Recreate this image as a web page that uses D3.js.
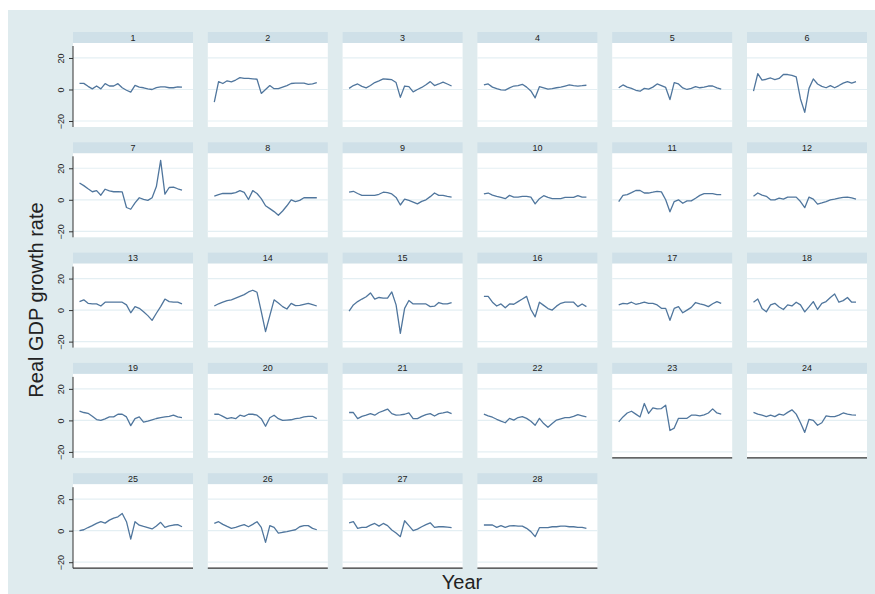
<!DOCTYPE html>
<html lang="en">
<head>
    <meta charset="UTF-8">
    <title>Real GDP growth rate by country</title>
    <script src="https://d3js.org/d3.v7.min.js"></script>
    <style>
        body { margin: 0; background: #fff; }
        text { font-family: 'Liberation Sans', Arial, sans-serif; fill: #222; }
        .hdr { font-size: 9px; }
        .title { font-size: 20px; }
    </style>
</head>
<body>
<script>

    const width  = 875;
    const height = 594;

    const years = d3.range(1990, 2015);
    const countries = d3.range(1, 29).map(String);
    const yTicks = [-20, 0, 20];

    // growth rate per country
    const s01 = [3.9,3.9,2,0.4,2.2,0.4,3.7,2.2,2.2,3.7,1.1,-0.5,-1.7,2.6,1.5,1.1,0.4,0,1.2,1.7,1.7,1.1,1.1,1.7,1.5];
    const s02 = [-8,5,3.8,5.5,4.8,6,7.5,7,7,6.8,6.5,-2.5,0,2.5,0.5,0.5,1.5,2.5,3.8,4,4,4,3.2,3.5,4.3];
    const s03 = [0.7,2.5,3.5,2,1,2.5,4.4,5.5,6.7,6.5,6.2,4.4,-5,2.2,1.8,-1.5,0,1.3,3,5,2.5,3.5,4.7,3.5,2.2];
    const s04 = [2.9,3.5,1.5,0.5,-0.3,-0.4,1,2.2,2.5,3.3,1.5,-0.9,-5.3,1.8,1,0.2,0.5,1.1,1.5,2.2,2.9,2.5,2.2,2.4,2.7];
    const s05 = [1.1,2.9,1.5,0.7,-0.5,-1.1,0.7,0.2,1.5,3.5,2.5,1.3,-6.4,4.4,3.5,1,0,0.7,1.8,1.1,1.5,2.2,2.2,1,0.2];
    const s06 = [-1,10,6,6.5,7.3,6.2,7,9.5,9.5,9,8,-6,-14.5,0.7,6.7,3.5,2,1.1,2.5,1.1,2.5,4,5,4,5];
    const s07 = [10.7,9,7,5.1,5.8,2.9,6.7,5.6,5.1,5.1,5,-4.9,-6,-2,1.3,0.2,-0.4,1.3,8.4,25,3.6,7.8,8,7,6.2];
    const s08 = [2.4,3.3,4,4,4,4.5,5.8,4.7,0.2,5.8,4,0.7,-3.8,-5.6,-7.5,-9.8,-7.1,-3.8,0,-1.1,-0.4,1.3,1.3,1.3,1.3];
    const s09 = [4.8,5.4,4,2.8,2.8,2.8,2.8,3.5,4.8,4.5,3.7,1.5,-3.3,0.4,-0.4,-1.5,-2.6,-1,0,2,4.3,2.8,2.8,2.2,1.7];
    const s10 = [3.7,4.3,3,2.2,1.5,0.7,2.8,1.7,1.7,2.2,2.2,1.7,-2.6,0.7,2.6,1.5,0.7,0.7,0.7,1.5,1.5,1.5,2.6,1.7,1.7];
    const s11 = [-1.1,2.8,3.3,4.5,5.9,5.9,4.3,4.3,4.8,5.4,5,0,-7.6,-1.1,0,-2.2,-0.7,-0.7,1,2.8,3.9,3.9,3.9,3.3,3.3];
    const s12 = [2.2,4.3,3,2.2,0,0,1.1,0.4,1.7,1.7,1.7,-1.1,-5,1.7,0.4,-2.8,-2,-1.1,0,0.4,1.1,1.5,1.7,1.2,0.4];
    const s13 = [5.4,6.5,4.3,4,3.9,2.6,5,5,5,5,5,3.3,-1.7,2.2,1.1,-1,-3.5,-6.5,-2,2.2,7,5.4,5,5,3.9];
    const s14 = [2.6,4,5,6,6.5,7.6,8.7,9.8,11.5,12.6,11.3,-1,-13.7,-3.5,6.5,4.5,2.2,0.7,4.3,2.8,3,3.7,4.3,3.5,2.6];
    const s15 = [-0.7,3.3,5.4,7,8.5,10.9,7,8,7.6,7.6,11.5,3.3,-14.8,1.1,6.1,3.9,3.9,3.9,3.9,2.2,2.5,4.8,3.9,3.9,4.8];
    const s16 = [8.7,8.7,5,2.6,3.9,1.5,3.9,3.7,5.4,7,8.7,0.4,-4.3,5,3,1,0,2.5,4.3,5,5,5,2.2,3.9,2.2];
    const s17 = [3.3,4.3,3.9,5,3.7,4.3,5,4.3,4.3,3.3,1.1,1.1,-6.5,1.1,2.2,-1.7,0,1.7,4.8,4,3.3,2.2,4,5.4,4.3];
    const s18 = [5,7,1,-1.1,3.3,4.3,2,0.4,3.3,2.6,5,3.3,-1.1,2,5.4,0.4,4.3,5.4,8,10.2,5,6,8,5,5];
    const s19 = [5.9,5,4.5,2.6,0.5,0,1,2.2,2.2,3.9,3.9,2.2,-3.3,1.1,2.2,-1.1,-0.5,0.4,1.2,1.7,2.2,2.6,3.3,2.2,1.7];
    const s20 = [3.9,3.9,2.5,1.1,1.7,1.1,3.3,2.6,3.9,3.9,3.3,1.1,-3.7,1.7,3.3,1.1,0,0.2,0.4,1.1,1.5,2.2,2.6,2.6,1.1];
    const s21 = [5,5,1.1,2.5,3.3,4.3,3.3,5,6,7.2,4.3,3.3,3.5,3.9,4.8,1.1,1.1,2.5,3.7,4.3,2.8,4.3,4.8,5.4,4.3];
    const s22 = [4,2.9,2,0.7,-0.5,-1.5,1.3,0.2,1.8,2.4,1.3,-0.5,-3.1,1.3,-2,-4.4,-2,0.2,1,1.8,1.8,2.5,3.6,2.9,2.2];
    const s23 = [-0.9,2.2,4.7,5.8,4,2.2,10.7,4.4,8,7.3,7.5,9.6,-6.4,-4.9,1.3,1.3,1.3,3.3,3.3,2.9,3.5,4.7,7.3,4.7,4];
    const s24 = [5.1,4,3.3,2.4,3.3,2.4,4,3.3,5.1,6.7,4,-1.5,-7.6,0.7,0,-3.1,-1.5,2.9,2.4,2.4,3.3,4.7,4,3.5,3.3];
    const s25 = [0,0.6,2,3.2,4.6,5.7,4.8,6.7,8,8.8,10.9,5.7,-5.3,5.7,3.5,2.7,2,1.1,3,5.3,2.1,3,3.6,3.8,2.5];
    const s26 = [4.6,5.7,4,2.7,1.5,2.1,3,3.8,2.5,4,5.7,2.1,-7.4,3.2,2.1,-1.5,-1,-0.6,0,0.6,2.5,3.2,3.2,1.5,0.6];
    const s27 = [5,5.7,1.5,2.1,2.1,3.5,4.6,2.9,4.6,3.2,0.4,-1.5,-3.8,6.3,3.2,0,1,2.5,3.8,5,2.1,2.5,2.5,2.2,1.9];
    const s28 = [3.6,3.6,3.6,2.1,3.2,2.1,3,3.2,2.9,2.9,1.5,-0.6,-3.8,1.9,1.9,1.9,2.5,2.5,2.9,2.9,2.5,2.5,2.1,2.1,1.5];

    const series = [s01,s02,s03,s04,s05,s06,s07,s08,s09,s10,s11,s12,s13,s14,
                    s15,s16,s17,s18,s19,s20,s21,s22,s23,s24,s25,s26,s27,s28];

    const ncol = 6;
    const x0 = 73, y0 = 32;
    const pw = 120, colStep = 134.8, rowStep = 110.3;
    const hh = 11, ph = 84;

    const x = d3.scaleLinear().domain([years[0], years[years.length - 1]]).range([6.5, 109]);
    const y = d3.scaleLinear().domain([-23.8, 29.5]).range([hh + ph, hh]);

    const line = d3.line()
            .x((d, i) => x(years[i]))
            .y(d => y(d));

    const svg = d3.select("body")
            .append("svg")
            .attr("width", width)
            .attr("height", height);

    svg.append("rect")
            .attr("x", 8).attr("y", 10)
            .attr("width", width - 8).attr("height", height - 10)
            .attr("fill", "#dfebee");

    // number of rows used by a column
    const rowsIn = c => Math.ceil((countries.length - c) / ncol);

    series.forEach((vals, k) => {
        const c = k % ncol, r = Math.floor(k / ncol);
        const g = svg.append("g")
                .attr("transform", "translate(" + [x0 + c * colStep, y0 + r * rowStep] + ")");

        g.append("rect")
                .attr("width", pw).attr("height", hh)
                .attr("fill", "#cfe0e8");
        g.append("text")
                .attr("class", "hdr")
                .attr("x", pw / 2).attr("y", hh - 2.5)
                .attr("text-anchor", "middle")
                .text(countries[k]);

        g.append("rect")
                .attr("y", hh)
                .attr("width", pw).attr("height", ph)
                .attr("fill", "#fff");

        g.selectAll("line.grid")
                .data(yTicks)
                .enter()
                .append("line")
                .attr("class", "grid")
                .attr("x1", 0).attr("x2", pw)
                .attr("y1", d => y(d)).attr("y2", d => y(d))
                .attr("stroke", "#e4eff3")
                .attr("stroke-width", 1.2);

        g.append("path")
                .datum(vals)
                .attr("d", line)
                .attr("fill", "none")
                .attr("stroke", "#50769d")
                .attr("stroke-width", 1.3)
                .attr("stroke-linejoin", "round");

        if (c === 0) {
            const ax = g.append("g")
                    .call(d3.axisLeft(y).tickValues(yTicks).tickSize(4).tickFormat(d3.format("d")));
            ax.select(".domain").attr("stroke", "#333").attr("d", "M0," + (hh + 3) + "V" + (hh + ph));
            ax.selectAll(".tick line").attr("stroke", "#333");
            ax.selectAll(".tick text")
                    .attr("x", null).attr("dy", null).attr("y", null)
                    .attr("transform", "translate(-9,0) rotate(-90)")
                    .attr("text-anchor", "middle")
                    .attr("font-family", "'Liberation Sans', Arial, sans-serif")
                    .attr("font-size", 9)
                    .attr("fill", "#222");
        }

        if (r === rowsIn(c) - 1) {
            g.append("line")
                    .attr("x1", 0).attr("x2", pw)
                    .attr("y1", hh + ph).attr("y2", hh + ph)
                    .attr("stroke", "#333")
                    .attr("stroke-width", 1.2);
        }
    });

    svg.append("text")
            .attr("class", "title")
            .attr("transform", "translate(43,300) rotate(-90)")
            .attr("text-anchor", "middle")
            .text("Real GDP growth rate");

    svg.append("text")
            .attr("class", "title")
            .attr("x", 462).attr("y", 589)
            .attr("text-anchor", "middle")
            .text("Year");

</script>
</body>
</html>
